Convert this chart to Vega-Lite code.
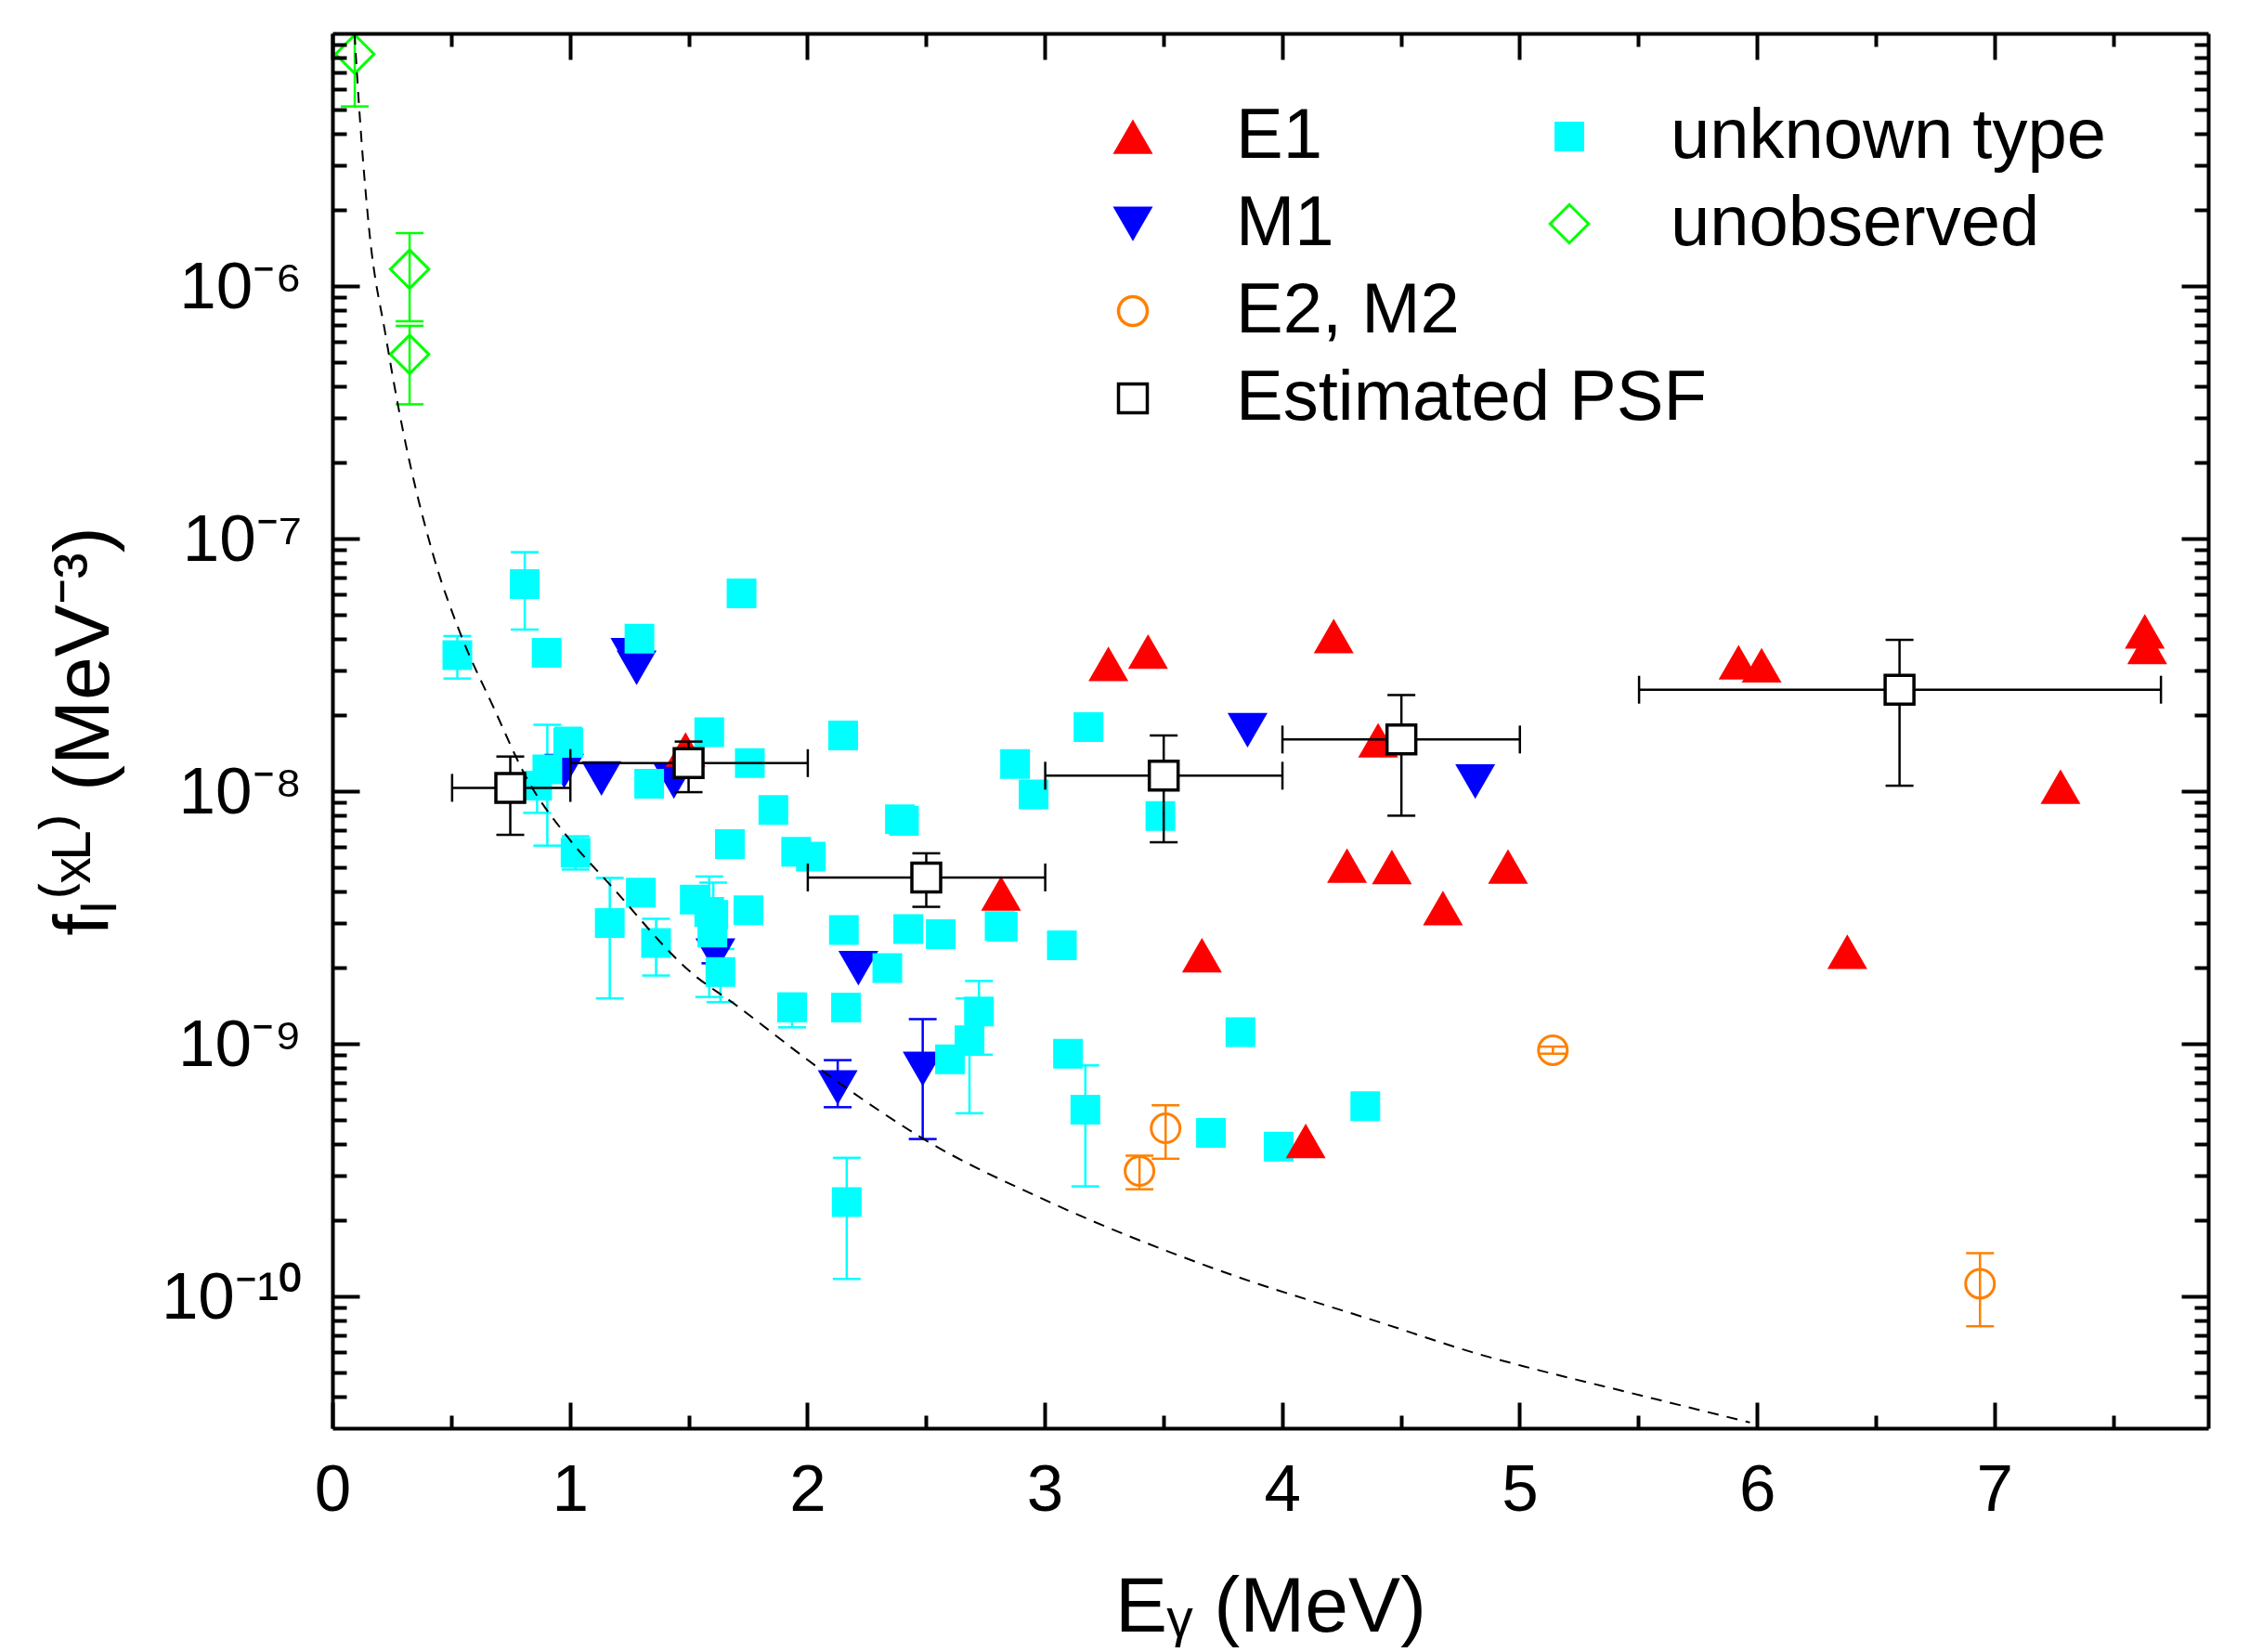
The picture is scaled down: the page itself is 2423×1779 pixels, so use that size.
{
  "$schema": "https://vega.github.io/schema/vega-lite/v6.json",
  "width": 2020,
  "height": 1502,
  "autosize": {"type": "none"},
  "padding": {"left": 358, "top": 36, "right": 45, "bottom": 241},
  "background": "white",
  "config": {
    "font": "Liberation Sans",
    "view": {"stroke": null},
    "axis": {"grid": false, "labelColor": "#000", "tickColor": "#000", "domainColor": "#000", "titleColor": "#000", "titleFontWeight": "normal", "labelFont": "Liberation Sans", "titleFont": "Liberation Sans", "labelFlush": false, "labelOverlap": false, "labelBound": false},
    "legend": {"labelFont": "Liberation Sans", "labelColor": "#000"}
  },
  "datasets": {
    "pts": [
      {"t": "unknown type", "x": 0.526, "y": 3.45e-8, "lo": 2.79e-8, "hi": 4.11e-8},
      {"t": "unknown type", "x": 0.81, "y": 6.6e-8, "lo": 4.36e-8, "hi": 8.83e-8},
      {"t": "unknown type", "x": 0.902, "y": 3.53e-8},
      {"t": "unknown type", "x": 1.293, "y": 4.01e-8},
      {"t": "unknown type", "x": 1.723, "y": 6.07e-8},
      {"t": "unknown type", "x": 1.587, "y": 1.71e-8},
      {"t": "unknown type", "x": 2.151, "y": 1.66e-8},
      {"t": "unknown type", "x": 1.758, "y": 1.29e-8},
      {"t": "unknown type", "x": 1.334, "y": 1.07e-8},
      {"t": "unknown type", "x": 0.993, "y": 1.55e-8, "lo": 1.55e-8, "hi": 1.78e-8},
      {"t": "unknown type", "x": 0.905, "y": 1.22e-8, "lo": 6.08e-9, "hi": 1.83e-8},
      {"t": "unknown type", "x": 0.862, "y": 1.05e-8, "lo": 8.2e-9, "hi": 1.05e-8},
      {"t": "unknown type", "x": 1.024, "y": 5.7e-9, "lo": 4.89e-9, "hi": 6.62e-9},
      {"t": "unknown type", "x": 1.857, "y": 8.41e-9},
      {"t": "unknown type", "x": 2.39, "y": 7.74e-9},
      {"t": "unknown type", "x": 2.407, "y": 7.62e-9},
      {"t": "unknown type", "x": 1.674, "y": 6.16e-9},
      {"t": "unknown type", "x": 1.953, "y": 5.75e-9},
      {"t": "unknown type", "x": 2.015, "y": 5.5e-9},
      {"t": "unknown type", "x": 1.168, "y": 3.0e-9, "lo": 1.51e-9, "hi": 4.53e-9},
      {"t": "unknown type", "x": 1.299, "y": 3.96e-9},
      {"t": "unknown type", "x": 1.363, "y": 2.5e-9, "lo": 1.86e-9, "hi": 3.12e-9},
      {"t": "unknown type", "x": 1.526, "y": 3.72e-9},
      {"t": "unknown type", "x": 1.587, "y": 3.32e-9, "lo": 1.53e-9, "hi": 4.59e-9},
      {"t": "unknown type", "x": 1.604, "y": 3.23e-9, "lo": 3.23e-9, "hi": 4.34e-9},
      {"t": "unknown type", "x": 1.6, "y": 2.75e-9},
      {"t": "unknown type", "x": 1.752, "y": 3.37e-9},
      {"t": "unknown type", "x": 2.154, "y": 2.82e-9},
      {"t": "unknown type", "x": 2.425, "y": 2.84e-9},
      {"t": "unknown type", "x": 2.562, "y": 2.71e-9},
      {"t": "unknown type", "x": 2.81, "y": 2.92e-9},
      {"t": "unknown type", "x": 2.823, "y": 2.9e-9},
      {"t": "unknown type", "x": 2.875, "y": 1.28e-8},
      {"t": "unknown type", "x": 2.953, "y": 9.7e-9},
      {"t": "unknown type", "x": 3.072, "y": 2.45e-9},
      {"t": "unknown type", "x": 3.184, "y": 1.79e-8},
      {"t": "unknown type", "x": 3.487, "y": 7.96e-9},
      {"t": "unknown type", "x": 1.634, "y": 1.92e-9, "lo": 1.46e-9, "hi": 2.37e-9},
      {"t": "unknown type", "x": 1.936, "y": 1.39e-9, "lo": 1.16e-9, "hi": 1.58e-9},
      {"t": "unknown type", "x": 2.163, "y": 1.39e-9},
      {"t": "unknown type", "x": 2.337, "y": 1.99e-9},
      {"t": "unknown type", "x": 2.166, "y": 2.36e-10, "lo": 1.17e-10, "hi": 3.53e-10},
      {"t": "unknown type", "x": 2.601, "y": 8.66e-10},
      {"t": "unknown type", "x": 2.683, "y": 1.03e-9, "lo": 5.3e-10, "hi": 1.51e-9},
      {"t": "unknown type", "x": 2.723, "y": 1.34e-9, "lo": 9.04e-10, "hi": 1.77e-9},
      {"t": "unknown type", "x": 3.098, "y": 9.12e-10},
      {"t": "unknown type", "x": 3.171, "y": 5.48e-10, "lo": 2.72e-10, "hi": 8.2e-10},
      {"t": "unknown type", "x": 3.7, "y": 4.43e-10},
      {"t": "unknown type", "x": 3.824, "y": 1.11e-9},
      {"t": "unknown type", "x": 3.985, "y": 3.91e-10},
      {"t": "unknown type", "x": 4.35, "y": 5.65e-10},
      {"t": "M1", "x": 1.255, "y": 3.45e-8},
      {"t": "M1", "x": 1.281, "y": 3.08e-8},
      {"t": "M1", "x": 0.976, "y": 1.2e-8},
      {"t": "M1", "x": 1.133, "y": 1.12e-8},
      {"t": "M1", "x": 1.438, "y": 1.09e-8},
      {"t": "M1", "x": 1.613, "y": 2.23e-9, "lo": 2.08e-9, "hi": 2.45e-9},
      {"t": "M1", "x": 2.215, "y": 1.99e-9},
      {"t": "M1", "x": 2.128, "y": 6.7e-10, "lo": 5.6e-10, "hi": 8.6e-10},
      {"t": "M1", "x": 2.486, "y": 7.94e-10, "lo": 4.19e-10, "hi": 1.25e-9},
      {"t": "M1", "x": 3.854, "y": 1.74e-8},
      {"t": "M1", "x": 4.813, "y": 1.09e-8},
      {"t": "E1", "x": 1.487, "y": 1.46e-8},
      {"t": "E1", "x": 2.816, "y": 3.93e-9},
      {"t": "E1", "x": 3.268, "y": 3.19e-8},
      {"t": "E1", "x": 3.435, "y": 3.57e-8},
      {"t": "E1", "x": 3.662, "y": 2.24e-9},
      {"t": "E1", "x": 4.099, "y": 4.12e-10},
      {"t": "E1", "x": 4.217, "y": 4.11e-8},
      {"t": "E1", "x": 4.273, "y": 5.07e-9},
      {"t": "E1", "x": 4.404, "y": 1.59e-8},
      {"t": "E1", "x": 4.462, "y": 5.0e-9},
      {"t": "E1", "x": 4.677, "y": 3.44e-9},
      {"t": "E1", "x": 4.951, "y": 5.03e-9},
      {"t": "E1", "x": 5.922, "y": 3.24e-8},
      {"t": "E1", "x": 6.019, "y": 3.15e-8},
      {"t": "E1", "x": 6.38, "y": 2.31e-9},
      {"t": "E1", "x": 7.278, "y": 1.04e-8},
      {"t": "E1", "x": 7.633, "y": 4.29e-8},
      {"t": "E1", "x": 7.643, "y": 3.72e-8},
      {"t": "E2, M2", "x": 3.399, "y": 3.13e-10, "lo": 2.65e-10, "hi": 3.6e-10},
      {"t": "E2, M2", "x": 3.509, "y": 4.62e-10, "lo": 3.5e-10, "hi": 5.7e-10},
      {"t": "E2, M2", "x": 5.14, "y": 9.42e-10, "lo": 9.12e-10, "hi": 9.73e-10},
      {"t": "E2, M2", "x": 6.939, "y": 1.12e-10, "lo": 7.6e-11, "hi": 1.48e-10},
      {"t": "unobserved", "x": 0.094, "y": 8.28e-6, "lo": 5.14e-6, "hi": 1.5e-5},
      {"t": "unobserved", "x": 0.325, "y": 1.166e-6, "lo": 7.25e-7, "hi": 1.62e-6},
      {"t": "unobserved", "x": 0.325, "y": 5.36e-7, "lo": 3.4e-7, "hi": 6.95e-7}
    ],
    "psf": [
      {"t": "Estimated PSF", "x": 0.749, "y": 1.03e-8, "ylo": 6.71e-9, "yhi": 1.37e-8, "xlo": 0.504, "xhi": 1.002},
      {"t": "Estimated PSF", "x": 1.5, "y": 1.29e-8, "ylo": 9.9e-9, "yhi": 1.57e-8, "xlo": 1.002, "xhi": 2.002},
      {"t": "Estimated PSF", "x": 2.501, "y": 4.55e-9, "ylo": 3.48e-9, "yhi": 5.67e-9, "xlo": 2.002, "xhi": 3.002},
      {"t": "Estimated PSF", "x": 3.501, "y": 1.15e-8, "ylo": 6.27e-9, "yhi": 1.66e-8, "xlo": 3.002, "xhi": 4.001},
      {"t": "Estimated PSF", "x": 4.502, "y": 1.6e-8, "ylo": 7.99e-9, "yhi": 2.4e-8, "xlo": 4.001, "xhi": 5.001},
      {"t": "Estimated PSF", "x": 6.6, "y": 2.52e-8, "ylo": 1.05e-8, "yhi": 3.97e-8, "xlo": 5.503, "xhi": 7.701}
    ],
    "curve": [
      {"x": 0.093, "y": 1.0e-5},
      {"x": 0.111, "y": 5.35e-6},
      {"x": 0.155, "y": 1.66e-6},
      {"x": 0.225, "y": 6.3e-7},
      {"x": 0.278, "y": 3.3e-7},
      {"x": 0.426, "y": 8.5e-8},
      {"x": 0.539, "y": 4.2e-8},
      {"x": 0.679, "y": 2.14e-8},
      {"x": 0.819, "y": 1.12e-8},
      {"x": 0.993, "y": 6.53e-9},
      {"x": 1.168, "y": 4.27e-9},
      {"x": 1.517, "y": 1.89e-9},
      {"x": 1.691, "y": 1.44e-9},
      {"x": 2.04, "y": 8.1e-10},
      {"x": 2.313, "y": 5.35e-10},
      {"x": 2.477, "y": 4.26e-10},
      {"x": 3.011, "y": 2.38e-10},
      {"x": 3.709, "y": 1.29e-10},
      {"x": 4.407, "y": 7.9e-11},
      {"x": 4.854, "y": 5.8e-11},
      {"x": 5.019, "y": 5.27e-11},
      {"x": 5.453, "y": 4.17e-11},
      {"x": 5.97, "y": 3.16e-11}
    ]
  },
  "resolve": {
    "scale": {"shape": "independent", "fill": "independent", "stroke": "independent"},
    "axis": {"x": "independent", "y": "independent"}
  },
  "layer": [
    {
      "data": {"name": "pts"},
      "transform": [{"filter": "isValid(datum.lo)"}],
      "mark": {"type": "rule", "strokeWidth": 2.5, "clip": true, "opacity": 1},
      "encoding": {
        "x": {"field": "x", "type": "quantitative", "scale": {"domain": [0, 7.9], "nice": false, "zero": false},
          "axis": {"orient": "bottom", "values": [0, 1, 2, 3, 4, 5, 6, 7], "format": "d", "tickSize": -28, "tickWidth": 4, "domainWidth": 4, "labelFontSize": 71, "labelPadding": 60, "title": "Eᵧ (MeV)", "titleFontSize": 84, "titlePadding": 50, "zindex": 1}},
        "y": {"field": "lo", "type": "quantitative", "scale": {"type": "log", "domain": [3e-11, 1e-5], "nice": false},
          "axis": {"orient": "left", "values": [1e-10, 1e-9, 1e-8, 1e-7, 1e-6], "labelExpr": "datum.value < 5e-10 ? '10⁻¹⁰' : datum.value < 5e-9 ? '10⁻⁹' : datum.value < 5e-8 ? '10⁻⁸' : datum.value < 5e-7 ? '10⁻⁷' : '10⁻⁶'", "tickSize": -29, "tickWidth": 4, "domainWidth": 4, "labelFontSize": 71, "labelPadding": 62, "labelOffset": 3, "title": "fₗ⁽ˣᴸ⁾ (MeV⁻³)", "titleFontSize": 84, "titlePadding": 39, "zindex": 1}},
        "y2": {"field": "hi"},
        "color": {"field": "t", "type": "nominal", "legend": null,
          "scale": {"domain": ["E1", "M1", "E2, M2", "unknown type", "unobserved"], "range": ["#FF0000", "#0000FF", "#FF8000", "#00FFFF", "#00FF00"]}}
      }
    },
    {
      "data": {"name": "pts"},
      "transform": [{"filter": "isValid(datum.lo) && datum.lo < datum.y"}],
      "mark": {"type": "tick", "orient": "horizontal", "size": 30, "thickness": 2.5, "clip": true, "opacity": 1},
      "encoding": {
        "x": {"field": "x", "type": "quantitative", "scale": {"domain": [0, 7.9], "nice": false, "zero": false},
          "axis": {"orient": "bottom", "values": [0.5, 1.5, 2.5, 3.5, 4.5, 5.5, 6.5, 7.5], "labels": false, "domain": false, "tickSize": -14, "tickWidth": 4, "title": null, "zindex": 1}},
        "y": {"field": "lo", "type": "quantitative", "scale": {"type": "log", "domain": [3e-11, 1e-5], "nice": false},
          "axis": {"orient": "left", "values": [4e-11, 5e-11, 6e-11, 7e-11, 8e-11, 9e-11, 2e-10, 3e-10, 4e-10, 5e-10, 6e-10, 7e-10, 8e-10, 9e-10, 2e-9, 3e-9, 4e-9, 5e-9, 6e-9, 7e-9, 8e-9, 9e-9, 2e-8, 3e-8, 4e-8, 5e-8, 6e-8, 7e-8, 8e-8, 9e-8, 2e-7, 3e-7, 4e-7, 5e-7, 6e-7, 7e-7, 8e-7, 9e-7, 2e-6, 3e-6, 4e-6, 5e-6, 6e-6, 7e-6, 8e-6, 9e-6], "labels": false, "domain": false, "tickSize": -15, "tickWidth": 4, "title": null, "zindex": 1}},
        "color": {"field": "t", "type": "nominal", "legend": null,
          "scale": {"domain": ["E1", "M1", "E2, M2", "unknown type", "unobserved"], "range": ["#FF0000", "#0000FF", "#FF8000", "#00FFFF", "#00FF00"]}}
      }
    },
    {
      "data": {"name": "pts"},
      "transform": [{"filter": "isValid(datum.hi) && datum.hi > datum.y"}],
      "mark": {"type": "tick", "orient": "horizontal", "size": 30, "thickness": 2.5, "clip": true, "opacity": 1},
      "encoding": {
        "x": {"field": "x", "type": "quantitative", "scale": {"domain": [0, 7.9], "nice": false, "zero": false},
          "axis": {"orient": "top", "values": [0, 1, 2, 3, 4, 5, 6, 7], "labels": false, "tickSize": -28, "tickWidth": 4, "domainWidth": 4, "title": null, "zindex": 1}},
        "y": {"field": "hi", "type": "quantitative", "scale": {"type": "log", "domain": [3e-11, 1e-5], "nice": false},
          "axis": {"orient": "right", "values": [1e-10, 1e-9, 1e-8, 1e-7, 1e-6], "labels": false, "tickSize": -29, "tickWidth": 4, "domainWidth": 4, "title": null, "zindex": 1}},
        "color": {"field": "t", "type": "nominal", "legend": null,
          "scale": {"domain": ["E1", "M1", "E2, M2", "unknown type", "unobserved"], "range": ["#FF0000", "#0000FF", "#FF8000", "#00FFFF", "#00FF00"]}}
      }
    },
    {
      "data": {"name": "pts"},
      "transform": [{"filter": "datum.t == 'M1'"}],
      "mark": {"type": "point", "shape": "triangle-down", "filled": true, "color": "#0000FF", "size": 1850, "strokeWidth": 0, "opacity": 1, "clip": true},
      "encoding": {
        "x": {"field": "x", "type": "quantitative", "scale": {"domain": [0, 7.9], "nice": false, "zero": false},
          "axis": {"orient": "top", "values": [0.5, 1.5, 2.5, 3.5, 4.5, 5.5, 6.5, 7.5], "labels": false, "domain": false, "tickSize": -14, "tickWidth": 4, "title": null, "zindex": 1}},
        "y": {"field": "y", "type": "quantitative", "scale": {"type": "log", "domain": [3e-11, 1e-5], "nice": false},
          "axis": {"orient": "right", "values": [4e-11, 5e-11, 6e-11, 7e-11, 8e-11, 9e-11, 2e-10, 3e-10, 4e-10, 5e-10, 6e-10, 7e-10, 8e-10, 9e-10, 2e-9, 3e-9, 4e-9, 5e-9, 6e-9, 7e-9, 8e-9, 9e-9, 2e-8, 3e-8, 4e-8, 5e-8, 6e-8, 7e-8, 8e-8, 9e-8, 2e-7, 3e-7, 4e-7, 5e-7, 6e-7, 7e-7, 8e-7, 9e-7, 2e-6, 3e-6, 4e-6, 5e-6, 6e-6, 7e-6, 8e-6, 9e-6], "labels": false, "domain": false, "tickSize": -15, "tickWidth": 4, "title": null, "zindex": 1}}
      }
    },
    {
      "data": {"name": "pts"},
      "transform": [{"filter": "datum.t == 'unknown type'"}],
      "mark": {"type": "point", "filled": true, "size": 1024, "strokeWidth": 3, "opacity": 1, "clip": true},
      "encoding": {
        "x": {"field": "x", "type": "quantitative", "scale": {"domain": [0, 7.9], "nice": false, "zero": false}, "axis": null},
        "y": {"field": "y", "type": "quantitative", "scale": {"type": "log", "domain": [3e-11, 1e-5], "nice": false}, "axis": null},
        "shape": {"field": "t", "type": "nominal", "scale": {"domain": ["unknown type", "unobserved"], "range": ["square", "diamond"]},
          "legend": {"orient": "none", "legendX": 1294, "legendY": 73, "title": null, "direction": "vertical", "labelFontSize": 76, "labelOffset": 71, "rowPadding": 18, "labelLimit": 1000, "padding": 0, "symbolSize": 1722, "symbolStrokeWidth": 3, "symbolOpacity": 1, "encode": {"symbols": {"update": {"size": {"signal": "datum.value == 'unobserved' ? 1722 : 1024"}}}}}},
        "fill": {"field": "t", "type": "nominal", "scale": {"domain": ["unknown type", "unobserved"], "range": ["#00FFFF", "transparent"]},
          "legend": {"orient": "none", "legendX": 1294, "legendY": 73, "title": null, "direction": "vertical", "labelFontSize": 76, "labelOffset": 71, "rowPadding": 18, "labelLimit": 1000, "padding": 0, "symbolSize": 1722, "symbolStrokeWidth": 3, "symbolOpacity": 1, "encode": {"symbols": {"update": {"size": {"signal": "datum.value == 'unobserved' ? 1722 : 1024"}}}}}},
        "stroke": {"field": "t", "type": "nominal", "scale": {"domain": ["unknown type", "unobserved"], "range": ["transparent", "#00FF00"]},
          "legend": {"orient": "none", "legendX": 1294, "legendY": 73, "title": null, "direction": "vertical", "labelFontSize": 76, "labelOffset": 71, "rowPadding": 18, "labelLimit": 1000, "padding": 0, "symbolSize": 1722, "symbolStrokeWidth": 3, "symbolOpacity": 1, "encode": {"symbols": {"update": {"size": {"signal": "datum.value == 'unobserved' ? 1722 : 1024"}}}}}}
      }
    },
    {
      "data": {"name": "pts"},
      "transform": [{"filter": "datum.t == 'E1'"}],
      "mark": {"type": "point", "shape": "triangle-up", "filled": true, "color": "#FF0000", "size": 1850, "strokeWidth": 0, "opacity": 1, "clip": true},
      "encoding": {
        "x": {"field": "x", "type": "quantitative", "scale": {"domain": [0, 7.9], "nice": false, "zero": false}, "axis": null},
        "y": {"field": "y", "type": "quantitative", "scale": {"type": "log", "domain": [3e-11, 1e-5], "nice": false}, "axis": null}
      }
    },
    {
      "data": {"name": "pts"},
      "transform": [{"filter": "datum.t == 'E2, M2'"}],
      "mark": {"type": "point", "shape": "circle", "filled": false, "color": "#FF8000", "size": 961, "strokeWidth": 3, "opacity": 1, "clip": true},
      "encoding": {
        "x": {"field": "x", "type": "quantitative", "scale": {"domain": [0, 7.9], "nice": false, "zero": false}, "axis": null},
        "y": {"field": "y", "type": "quantitative", "scale": {"type": "log", "domain": [3e-11, 1e-5], "nice": false}, "axis": null}
      }
    },
    {
      "data": {"name": "pts"},
      "transform": [{"filter": "datum.t == 'unobserved'"}],
      "mark": {"type": "point", "shape": "diamond", "filled": false, "color": "#00FF00", "size": 1722, "strokeWidth": 3, "opacity": 1, "clip": true},
      "encoding": {
        "x": {"field": "x", "type": "quantitative", "scale": {"domain": [0, 7.9], "nice": false, "zero": false}, "axis": null},
        "y": {"field": "y", "type": "quantitative", "scale": {"type": "log", "domain": [3e-11, 1e-5], "nice": false}, "axis": null}
      }
    },
    {
      "data": {"name": "curve"},
      "mark": {"type": "line", "color": "#000", "strokeWidth": 2, "strokeDash": [12, 9], "interpolate": "monotone", "clip": true},
      "encoding": {
        "x": {"field": "x", "type": "quantitative", "scale": {"domain": [0, 7.9], "nice": false, "zero": false}, "axis": null},
        "y": {"field": "y", "type": "quantitative", "scale": {"type": "log", "domain": [3e-11, 1e-5], "nice": false}, "axis": null}
      }
    },
    {
      "data": {"name": "psf"},
      "mark": {"type": "rule", "color": "#000", "strokeWidth": 2.5, "clip": true},
      "encoding": {
        "x": {"field": "x", "type": "quantitative", "scale": {"domain": [0, 7.9], "nice": false, "zero": false}, "axis": null},
        "y": {"field": "ylo", "type": "quantitative", "scale": {"type": "log", "domain": [3e-11, 1e-5], "nice": false}, "axis": null},
        "y2": {"field": "yhi"}
      }
    },
    {
      "data": {"name": "psf"},
      "mark": {"type": "rule", "color": "#000", "strokeWidth": 2.5, "clip": true},
      "encoding": {
        "x": {"field": "xlo", "type": "quantitative", "scale": {"domain": [0, 7.9], "nice": false, "zero": false}, "axis": null},
        "x2": {"field": "xhi"},
        "y": {"field": "y", "type": "quantitative", "scale": {"type": "log", "domain": [3e-11, 1e-5], "nice": false}, "axis": null}
      }
    },
    {
      "data": {"name": "psf"},
      "mark": {"type": "tick", "orient": "horizontal", "size": 30, "thickness": 2.5, "color": "#000", "opacity": 1, "clip": true},
      "encoding": {
        "x": {"field": "x", "type": "quantitative", "scale": {"domain": [0, 7.9], "nice": false, "zero": false}, "axis": null},
        "y": {"field": "ylo", "type": "quantitative", "scale": {"type": "log", "domain": [3e-11, 1e-5], "nice": false}, "axis": null}
      }
    },
    {
      "data": {"name": "psf"},
      "mark": {"type": "tick", "orient": "horizontal", "size": 30, "thickness": 2.5, "color": "#000", "opacity": 1, "clip": true},
      "encoding": {
        "x": {"field": "x", "type": "quantitative", "scale": {"domain": [0, 7.9], "nice": false, "zero": false}, "axis": null},
        "y": {"field": "yhi", "type": "quantitative", "scale": {"type": "log", "domain": [3e-11, 1e-5], "nice": false}, "axis": null}
      }
    },
    {
      "data": {"name": "psf"},
      "mark": {"type": "tick", "orient": "vertical", "size": 30, "thickness": 2.5, "color": "#000", "opacity": 1, "clip": true},
      "encoding": {
        "x": {"field": "xlo", "type": "quantitative", "scale": {"domain": [0, 7.9], "nice": false, "zero": false}, "axis": null},
        "y": {"field": "y", "type": "quantitative", "scale": {"type": "log", "domain": [3e-11, 1e-5], "nice": false}, "axis": null}
      }
    },
    {
      "data": {"name": "psf"},
      "mark": {"type": "tick", "orient": "vertical", "size": 30, "thickness": 2.5, "color": "#000", "opacity": 1, "clip": true},
      "encoding": {
        "x": {"field": "xhi", "type": "quantitative", "scale": {"domain": [0, 7.9], "nice": false, "zero": false}, "axis": null},
        "y": {"field": "y", "type": "quantitative", "scale": {"type": "log", "domain": [3e-11, 1e-5], "nice": false}, "axis": null}
      }
    },
    {
      "data": {"name": "psf"},
      "mark": {"type": "point", "filled": true, "size": 961, "strokeWidth": 3.5, "opacity": 1, "clip": true},
      "encoding": {
        "x": {"field": "x", "type": "quantitative", "scale": {"domain": [0, 7.9], "nice": false, "zero": false}, "axis": null},
        "y": {"field": "y", "type": "quantitative", "scale": {"type": "log", "domain": [3e-11, 1e-5], "nice": false}, "axis": null},
        "shape": {"field": "t", "type": "nominal", "scale": {"domain": ["E1", "M1", "E2, M2", "Estimated PSF"], "range": ["triangle-up", "triangle-down", "circle", "square"]},
          "legend": {"orient": "none", "legendX": 824, "legendY": 73, "title": null, "direction": "vertical", "labelFontSize": 76, "labelOffset": 73, "rowPadding": 18, "labelLimit": 1000, "padding": 0, "symbolSize": 1850, "symbolStrokeWidth": 3.5, "symbolOpacity": 1, "encode": {"symbols": {"update": {"size": {"signal": "datum.value == 'E1' || datum.value == 'M1' ? 1850 : 961"}}}}}},
        "fill": {"field": "t", "type": "nominal", "scale": {"domain": ["E1", "M1", "E2, M2", "Estimated PSF"], "range": ["#FF0000", "#0000FF", "transparent", "#FFFFFF"]},
          "legend": {"orient": "none", "legendX": 824, "legendY": 73, "title": null, "direction": "vertical", "labelFontSize": 76, "labelOffset": 73, "rowPadding": 18, "labelLimit": 1000, "padding": 0, "symbolSize": 1850, "symbolStrokeWidth": 3.5, "symbolOpacity": 1, "encode": {"symbols": {"update": {"size": {"signal": "datum.value == 'E1' || datum.value == 'M1' ? 1850 : 961"}}}}}},
        "stroke": {"field": "t", "type": "nominal", "scale": {"domain": ["E1", "M1", "E2, M2", "Estimated PSF"], "range": ["transparent", "transparent", "#FF8000", "#000000"]},
          "legend": {"orient": "none", "legendX": 824, "legendY": 73, "title": null, "direction": "vertical", "labelFontSize": 76, "labelOffset": 73, "rowPadding": 18, "labelLimit": 1000, "padding": 0, "symbolSize": 1850, "symbolStrokeWidth": 3.5, "symbolOpacity": 1, "encode": {"symbols": {"update": {"size": {"signal": "datum.value == 'E1' || datum.value == 'M1' ? 1850 : 961"}}}}}}
      }
    }
  ]
}
